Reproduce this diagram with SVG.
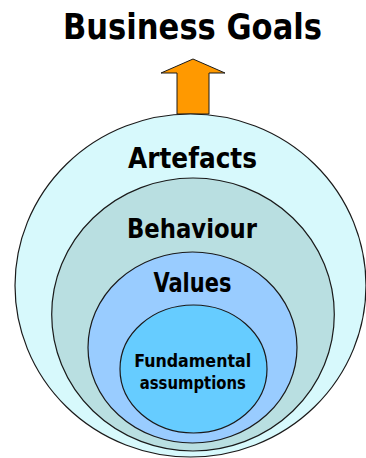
<svg xmlns="http://www.w3.org/2000/svg" width="366" height="458" viewBox="0 0 366 458">
  <style>
    .ring { stroke: #1a1a1a; stroke-width: 1.2; }
    .lbl { font-family: "DejaVu Sans Condensed", "DejaVu Sans", "Liberation Sans", sans-serif; font-weight: bold; fill: #000; text-anchor: middle; }
  </style>
  <rect width="366" height="458" fill="#ffffff"/>

  <text class="lbl" x="192.5" y="39" font-size="36" textLength="259" lengthAdjust="spacingAndGlyphs">Business Goals</text>

  <g id="connectors">
    <path d="M177,114 L177,73 L161,73 L193,59 L225,73 L209,73 L209,114 Z" fill="#ff9900" stroke="#1a1a1a" stroke-width="1"/>
  </g>

  <g id="artefacts">
    <ellipse class="ring" cx="190.5" cy="285.5" rx="175.5" ry="171.5" fill="#d7f9fc"/>
    <text class="lbl" x="192.5" y="168.3" font-size="28.5" textLength="129" lengthAdjust="spacingAndGlyphs">Artefacts</text>
  </g>

  <g id="behaviour">
    <ellipse class="ring" cx="193" cy="314.5" rx="141.3" ry="136.5" fill="#b9dfe1"/>
    <text class="lbl" x="192" y="238.3" font-size="26" textLength="130" lengthAdjust="spacingAndGlyphs">Behaviour</text>
  </g>

  <g id="values">
    <ellipse class="ring" cx="192.5" cy="347.5" rx="104.5" ry="95.5" fill="#99ccff"/>
    <text class="lbl" x="192.5" y="292.3" font-size="26.5" textLength="78" lengthAdjust="spacingAndGlyphs">Values</text>
  </g>

  <g id="fundamental-assumptions">
    <ellipse class="ring" cx="193.5" cy="369" rx="73.5" ry="64" fill="#66ccff"/>
    <text class="lbl" x="192.7" y="366.7" font-size="18.3" textLength="117" lengthAdjust="spacingAndGlyphs">Fundamental</text>
    <text class="lbl" x="192.8" y="389.3" font-size="18.3" textLength="106" lengthAdjust="spacingAndGlyphs">assumptions</text>
  </g>
</svg>
